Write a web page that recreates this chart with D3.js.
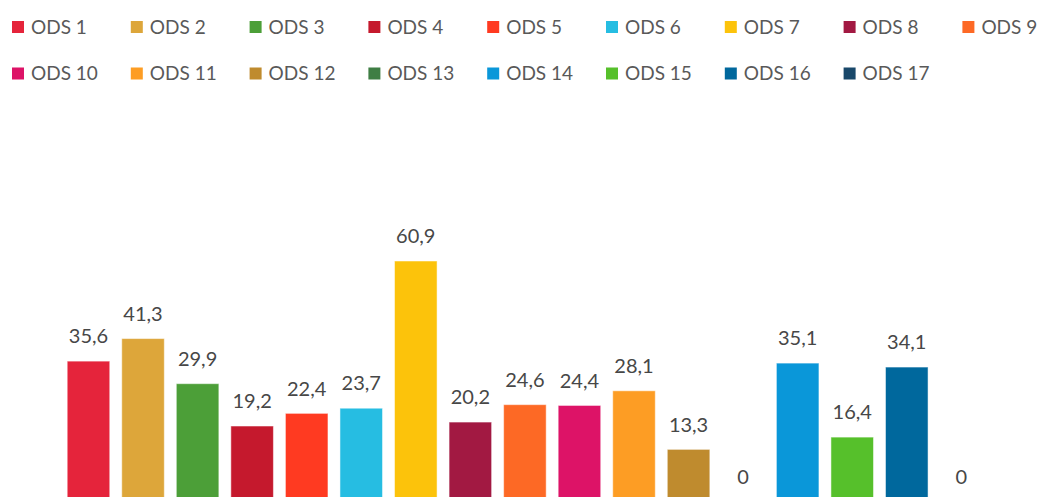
<!DOCTYPE html>
<meta charset="utf-8">
<style>
body { margin: 0; background: #fff; }
text { font-family: Lato, "Open Sans", sans-serif; fill: #595959; }
.labels text { fill: #474747; }
.bars rect { stroke: #fff; stroke-opacity: 0.5; stroke-width: 1px; }
</style>
<svg width="1040" height="497"></svg>
<script src="https://d3js.org/d3.v7.min.js"></script>
<script>

var categories = ["ODS 1", "ODS 2", "ODS 3", "ODS 4", "ODS 5", "ODS 6", "ODS 7", "ODS 8", "ODS 9",
                  "ODS 10", "ODS 11", "ODS 12", "ODS 13", "ODS 14", "ODS 15", "ODS 16", "ODS 17"];
var values = [35.6, 41.3, 29.9, 19.2, 22.4, 23.7, 60.9, 20.2, 24.6, 24.4, 28.1, 13.3, 0, 35.1, 16.4, 34.1, 0];
var colors = ["#E5243B", "#DDA63A", "#4C9F38", "#C5192D", "#FF3A21", "#26BDE2", "#FCC30B", "#A21942", "#FD6925",
              "#DD1367", "#FD9D24", "#BF8B2E", "#3F7E44", "#0A97D9", "#56C02B", "#00689D", "#19486A"];

var svg = d3.select("svg"),
    width = +svg.attr("width"),
    height = +svg.attr("height");

var fmt = function(v) { return v === 0 ? "0" : d3.format(".1f")(v).replace(".", ","); };

var x = d3.scaleBand()
    .domain(categories)
    .range([61.2, 988.6])
    .paddingInner(0.22)
    .paddingOuter(0.11);

var y = d3.scaleLinear()
    .domain([0, 60.9])
    .range([502, 261]);

var color = d3.scaleOrdinal().domain(categories).range(colors);

// legend, 9 per row
var legend = svg.append("g")
  .selectAll("g")
  .data(categories)
  .enter().append("g")
    .attr("transform", function(d, i) {
      return "translate(" + (12 + (i % 9) * 118.8) + "," + (Math.floor(i / 9) * 46.5 + 27) + ")";
    });

legend.append("rect")
    .attr("x", 0)
    .attr("y", -6)
    .attr("width", 12)
    .attr("height", 12)
    .attr("fill", function(d) { return color(d); });

legend.append("text")
    .attr("x", 19)
    .attr("dy", "0.36em")
    .style("font-size", "19px")
    .text(function(d) { return d; });

var data = categories.map(function(c, i) { return { cat: c, value: values[i] }; });

svg.append("g")
    .attr("class", "bars")
  .selectAll("rect")
  .data(data)
  .enter().append("rect")
    .attr("x", function(d) { return x(d.cat); })
    .attr("y", function(d) { return y(d.value); })
    .attr("width", x.bandwidth())
    .attr("height", function(d) { return y(0) - y(d.value); })
    .attr("fill", function(d) { return color(d.cat); });

svg.append("g")
    .attr("class", "labels")
  .selectAll("text")
  .data(data)
  .enter().append("text")
    .attr("x", function(d) { return x(d.cat) + x.bandwidth() / 2; })
    .attr("y", function(d) { return y(d.value) - 25; })
    .attr("dy", "0.36em")
    .attr("text-anchor", "middle")
    .style("font-size", "20px")
    .text(function(d) { return fmt(d.value); });

</script>
